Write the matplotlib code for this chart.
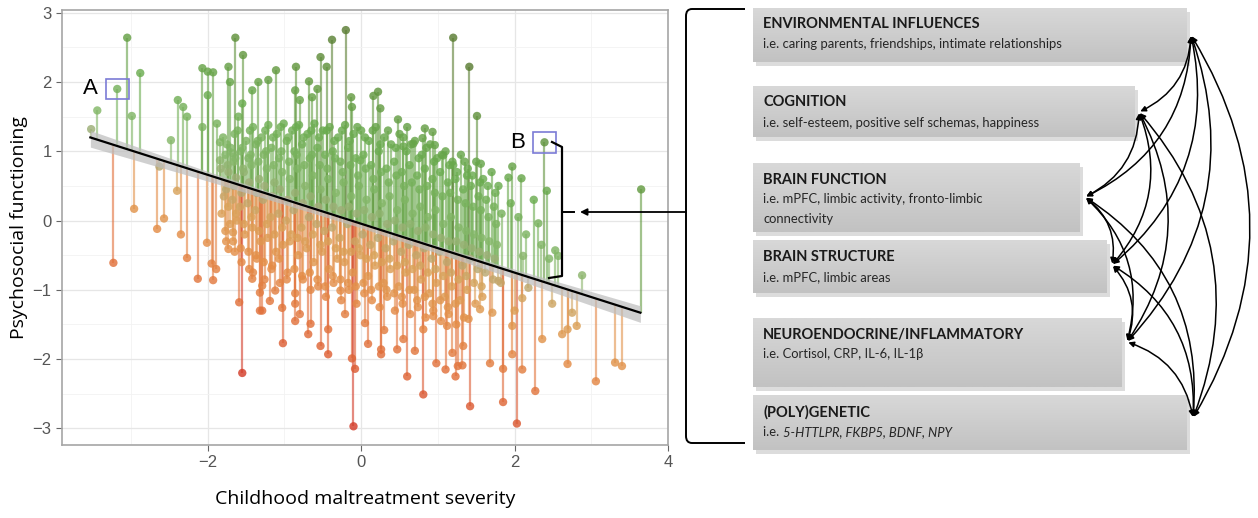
import numpy as np
import matplotlib.pyplot as plt
from matplotlib.colors import LinearSegmentedColormap, Normalize
from matplotlib.patches import Rectangle, FancyArrowPatch, PathPatch
from matplotlib.path import Path

# sparse points around the edge of the cloud (x = maltreatment, y = functioning)
edge_pts = [
    (-3.52, 1.32), (-3.44, 1.59), (-3.18, 1.90), (-3.05, 2.64), (-2.99, 1.51), (-2.88, 2.13),
    (-2.96, 0.17), (-3.23, -0.61), (-2.48, 1.16), (-2.63, 0.78), (-2.40, 0.43), (-2.57, 0.03),
    (-2.66, -0.12), (-2.35, -0.20), (-2.27, -0.54), (-2.13, -0.84), (-1.93, -0.86), (-1.95, -0.62),
    (-1.89, -0.70), (-2.01, -0.32), (-1.73, -0.41), (-1.59, -1.18), (-1.55, -2.20), (-1.32, -1.30),
    (-2.39, 1.74), (-2.32, 1.64), (-2.27, 1.50), (-2.07, 2.20), (-2.00, 2.15), (-1.93, 2.14),
    (-2.00, 1.81), (-2.07, 1.35), (-1.88, 1.40), (-1.84, 1.13), (-1.73, 2.22), (-1.64, 2.64),
    (-1.54, 2.39), (-1.71, 2.00), (-1.55, 1.69), (-1.42, 1.88), (-1.34, 2.00), (-1.60, 1.50),
    (-1.84, 0.87), (-1.67, 0.97),
    (-1.11, 2.17), (-1.21, 2.03), (-0.85, 2.22), (-0.68, 2.01), (-0.53, 2.36), (-0.45, 2.22),
    (-0.38, 2.61), (-0.20, 2.75), (-0.86, 1.88), (-0.80, 1.74), (-0.64, 1.78), (-0.57, 1.90),
    (-0.13, 1.78), (-0.12, 1.64), (0.16, 1.80), (0.22, 1.86), (0.25, 1.62), (0.48, 1.46),
    (0.60, 1.35), (0.83, 1.33), (0.93, 1.28), (1.20, 2.64), (1.20, 0.80), (1.07, 0.94),
    (0.96, 1.09), (0.68, 1.11), (0.55, 1.07), (0.80, 1.19), (-0.01, 0.87),
    (1.41, 2.22), (1.51, 1.51), (1.56, 0.82), (1.38, 0.65), (1.97, 0.78), (1.92, 0.62),
    (2.09, 0.61), (2.39, 1.13), (2.42, 0.43), (2.31, -0.04), (3.65, 0.45),
    (2.53, -0.43), (2.57, -0.51), (2.88, -0.79), (2.49, -1.20), (2.75, -1.33), (2.81, -1.52),
    (2.62, -1.64), (2.69, -1.57), (2.36, -1.71), (2.69, -2.07), (3.06, -2.32), (3.31, -2.05),
    (3.40, -2.10), (2.27, -2.46), (2.03, -2.93), (1.85, -2.62), (1.85, -2.14), (1.68, -2.06),
    (2.10, -2.15), (1.97, -1.93), (1.97, -1.52), (1.42, -2.68), (1.33, -1.81), (1.32, -2.09),
    (1.71, -1.33), (1.55, -1.28), (2.10, -1.12), (2.00, -1.30), (1.79, -0.87), (2.18, -0.97),
    (2.11, -0.51), (1.40, -1.42),
    (-0.10, -2.97), (-0.08, -2.14), (-0.12, -1.99), (-1.02, -1.77), (-0.53, -1.81), (-0.43, -1.93),
    (-0.43, -1.57), (-0.69, -1.64), (-0.66, -1.49), (-0.86, -1.45), (-0.80, -1.35), (-1.03, -1.26),
    (-1.29, -1.30), (-1.19, -1.16), (-0.86, -1.20), (0.09, -1.78), (0.26, -1.86), (0.26, -1.93),
    (0.47, -1.86), (0.60, -2.25), (0.81, -2.51), (0.98, -2.06), (1.10, -2.15), (1.23, -2.25),
    (1.19, -1.91), (1.26, -2.10), (0.70, -1.88), (0.55, -1.71), (0.30, -1.58), (0.05, -1.48),
    (-0.21, -1.35), (-0.27, -1.01), (0.81, -1.57), (0.94, -1.38), (1.12, -1.52), (-1.12, -1.01),
    (-1.29, -0.94), (-1.41, -0.75), (-1.32, -1.04), (-1.67, -0.17), (-1.42, -0.84),
    (1.95, 0.25), (2.05, 0.05), (2.15, -0.20), (2.25, 0.30), (2.35, -0.35), (2.45, -0.55),
]

# the dense middle of the cloud, read column by column
dense_pts = [
    (-1.80, 1.20), (-1.77, 0.95), (-1.83, 0.75), (-1.79, 0.35), (-1.82, 0.10), (-1.76, -0.30),
    (-1.70, 1.05), (-1.66, 0.85), (-1.73, 0.70), (-1.68, 0.30), (-1.71, -0.05), (-1.65, -0.45),
    (-1.61, 1.30), (-1.57, 1.00), (-1.63, 0.62), (-1.58, 0.20), (-1.62, 0.00), (-1.56, -0.60),
    (-1.50, 1.15), (-1.47, 0.90), (-1.53, 0.70), (-1.48, 0.25), (-1.52, -0.20), (-1.46, -0.70),
    (-1.41, 1.35), (-1.37, 1.10), (-1.43, 0.80), (-1.38, 0.15), (-1.42, -0.10), (-1.36, -0.55),
    (-1.30, 1.20), (-1.27, 0.95), (-1.33, 0.60), (-1.28, 0.30), (-1.31, -0.30), (-1.26, -0.85),
    (-1.21, 1.38), (-1.17, 1.05), (-1.23, 0.75), (-1.18, 0.05), (-1.22, -0.25), (-1.16, -0.65),
    (-1.10, 1.25), (-1.07, 0.90), (-1.13, 0.55), (-1.08, 0.10), (-1.11, -0.45), (-1.06, -0.90),
    (-1.01, 1.40), (-0.97, 1.15), (-1.03, 0.70), (-0.98, 0.00), (-1.02, -0.35), (-0.96, -0.75),
    (-0.90, 1.30), (-0.87, 1.00), (-0.93, 0.60), (-0.88, 0.15), (-0.91, -0.20), (-0.86, -1.05),
    (-0.81, 1.38), (-0.77, 1.10), (-0.83, 0.75), (-0.78, -0.10), (-0.82, -0.50), (-0.76, -0.85),
    (-0.70, 1.25), (-0.67, 0.90), (-0.73, 0.50), (-0.68, 0.05), (-0.71, -0.40), (-0.66, -1.00),
    (-0.61, 1.40), (-0.57, 1.05), (-0.63, 0.65), (-0.58, -0.05), (-0.62, -0.60), (-0.56, -0.95),
    (-0.50, 1.30), (-0.47, 0.95), (-0.53, 0.45), (-0.48, -0.15), (-0.51, -0.45), (-0.46, -1.10),
    (-0.41, 1.35), (-0.37, 1.00), (-0.43, 0.60), (-0.38, -0.10), (-0.42, -0.70), (-0.36, -0.90),
    (-0.30, 1.20), (-0.27, 0.85), (-0.33, 0.40), (-0.28, -0.25), (-0.31, -0.55), (-0.26, -1.15),
    (-0.21, 1.38), (-0.17, 1.05), (-0.23, 0.55), (-0.18, -0.05), (-0.22, -0.60), (-0.16, -1.00),
    (-0.10, 1.25), (-0.07, 0.90), (-0.13, 0.35), (-0.08, -0.30), (-0.11, -0.75), (-0.06, -1.20),
    (0.00, 1.30), (0.03, 0.95), (-0.03, 0.50), (0.02, -0.20), (-0.01, -0.50), (0.04, -1.05),
    (0.10, 1.15), (0.13, 0.80), (0.07, 0.30), (0.12, -0.35), (0.09, -0.80), (0.14, -1.15),
    (0.19, 1.35), (0.23, 1.00), (0.17, 0.45), (0.22, -0.25), (0.18, -0.65), (0.24, -1.25),
    (0.30, 1.20), (0.33, 0.75), (0.27, 0.25), (0.32, -0.40), (0.29, -0.90), (0.34, -1.10),
    (0.39, 1.10), (0.43, 0.85), (0.37, 0.35), (0.42, -0.30), (0.38, -0.70), (0.44, -1.30),
    (0.50, 1.25), (0.53, 0.70), (0.47, 0.15), (0.52, -0.45), (0.49, -0.95), (0.54, -1.20),
    (0.59, 1.00), (0.63, 0.80), (0.57, 0.30), (0.62, -0.35), (0.58, -0.75), (0.64, -1.35),
    (0.70, 1.15), (0.73, 0.65), (0.67, 0.10), (0.72, -0.50), (0.69, -1.00), (0.74, -1.25),
    (0.79, 0.95), (0.83, 0.75), (0.77, 0.20), (0.82, -0.40), (0.78, -0.85), (0.84, -1.40),
    (0.90, 1.10), (0.93, 0.60), (0.87, 0.05), (0.92, -0.55), (0.89, -1.05), (0.94, -1.30),
    (0.99, 0.90), (1.03, 0.70), (0.97, 0.15), (1.02, -0.45), (0.98, -0.90), (1.04, -1.45),
    (1.10, 1.00), (1.13, 0.55), (1.07, -0.05), (1.12, -0.60), (1.09, -1.10), (1.14, -1.35),
    (1.19, 0.85), (1.23, 0.60), (1.17, 0.05), (1.22, -0.50), (1.18, -0.95), (1.24, -1.50),
    (1.30, 0.95), (1.33, 0.45), (1.27, -0.10), (1.32, -0.65), (1.29, -1.15), (1.34, -1.40),
    (1.39, 0.75), (1.43, 0.50), (1.37, -0.15), (1.42, -0.55), (1.38, -1.00),
    (1.50, 0.85), (1.53, 0.35), (1.47, -0.20), (1.52, -0.70), (1.49, -1.20),
    (1.59, 0.60), (1.63, 0.30), (1.57, -0.25), (1.62, -0.75), (1.58, -1.10),
    (1.70, 0.70), (1.73, 0.20), (1.67, -0.30), (1.72, -0.85),
    (1.79, 0.50), (1.83, 0.10), (1.77, -0.35), (1.82, -0.90),
]

# second pass over the dense middle, between the columns above
dense_pts_b = [
    (-1.75, 1.10), (-1.74, 0.80), (-1.76, 0.45), (-1.73, 0.20), (-1.77, -0.15),
    (-1.65, 1.25), (-1.64, 0.90), (-1.66, 0.50), (-1.63, 0.10), (-1.67, -0.30),
    (-1.55, 1.05), (-1.54, 0.75), (-1.56, 0.40), (-1.53, -0.05), (-1.57, -0.40),
    (-1.45, 1.30), (-1.44, 0.95), (-1.46, 0.55), (-1.43, 0.05), (-1.47, -0.45),
    (-1.35, 1.15), (-1.34, 0.85), (-1.36, 0.40), (-1.33, -0.15), (-1.37, -0.50),
    (-1.25, 1.30), (-1.24, 1.00), (-1.26, 0.50), (-1.23, -0.05), (-1.27, -0.60),
    (-1.15, 1.20), (-1.14, 0.80), (-1.16, 0.35), (-1.13, -0.20), (-1.17, -0.70),
    (-1.05, 1.35), (-1.04, 1.00), (-1.06, 0.45), (-1.03, -0.10), (-1.07, -0.55),
    (-0.95, 1.20), (-0.94, 0.85), (-0.96, 0.30), (-0.93, -0.30), (-0.97, -0.85),
    (-0.85, 1.35), (-0.84, 0.95), (-0.86, 0.40), (-0.83, -0.25), (-0.87, -0.70),
    (-0.75, 1.20), (-0.74, 0.80), (-0.76, 0.25), (-0.73, -0.30), (-0.77, -0.80),
    (-0.65, 1.30), (-0.64, 0.95), (-0.66, 0.35), (-0.63, -0.20), (-0.67, -0.75),
    (-0.55, 1.20), (-0.54, 0.80), (-0.56, 0.20), (-0.53, -0.35), (-0.57, -0.85),
    (-0.45, 1.30), (-0.44, 0.75), (-0.46, 0.30), (-0.43, -0.30), (-0.47, -0.95),
    (-0.35, 1.15), (-0.34, 0.90), (-0.36, 0.20), (-0.33, -0.40), (-0.37, -0.80),
    (-0.25, 1.30), (-0.24, 0.70), (-0.26, 0.15), (-0.23, -0.45), (-0.27, -0.85),
    (-0.15, 1.15), (-0.14, 0.80), (-0.16, 0.20), (-0.13, -0.45), (-0.17, -0.90),
    (-0.05, 1.35), (-0.04, 0.65), (-0.06, 0.10), (-0.03, -0.40), (-0.07, -0.95),
    (0.05, 1.20), (0.06, 0.75), (0.04, 0.15), (0.07, -0.55), (0.03, -0.90),
    (0.15, 1.30), (0.16, 0.60), (0.14, 0.05), (0.17, -0.50), (0.13, -1.00),
    (0.25, 1.10), (0.26, 0.70), (0.24, 0.10), (0.27, -0.60), (0.23, -0.95),
    (0.35, 1.30), (0.36, 0.55), (0.34, -0.05), (0.37, -0.55), (0.33, -1.00),
    (0.45, 1.05), (0.46, 0.65), (0.44, 0.00), (0.47, -0.65), (0.43, -1.05),
    (0.55, 1.20), (0.56, 0.50), (0.54, -0.10), (0.57, -0.60), (0.53, -1.10),
    (0.65, 1.10), (0.66, 0.55), (0.64, -0.05), (0.67, -0.70), (0.63, -1.00),
    (0.75, 0.90), (0.76, 0.45), (0.74, -0.15), (0.77, -0.65), (0.73, -1.15),
    (0.85, 1.05), (0.86, 0.50), (0.84, -0.10), (0.87, -0.75), (0.83, -1.10),
    (0.95, 0.85), (0.96, 0.40), (0.94, -0.20), (0.97, -0.70), (0.93, -1.20),
    (1.05, 0.95), (1.06, 0.35), (1.04, -0.25), (1.07, -0.80), (1.03, -1.15),
    (1.15, 0.80), (1.16, 0.40), (1.14, -0.30), (1.17, -0.75), (1.13, -1.25),
    (1.25, 0.70), (1.26, 0.30), (1.24, -0.30), (1.27, -0.85), (1.23, -1.20),
    (1.35, 0.85), (1.36, 0.25), (1.34, -0.35), (1.37, -0.80),
    (1.45, 0.65), (1.46, 0.20), (1.44, -0.40), (1.47, -0.90),
    (1.55, 0.55), (1.56, 0.15), (1.54, -0.45), (1.57, -0.95),
    (1.65, 0.50), (1.66, 0.05), (1.64, -0.50),
    (1.75, 0.40), (1.76, -0.05), (1.74, -0.55),
]

# regression line and its confidence band
fit_x = [-3.53, 3.64]
fit_y = [1.20, -1.33]
band_x = [-3.53, -2.0, 0.0, 2.0, 3.64]
band_hw = [0.12, 0.07, 0.04, 0.07, 0.12]

x_ticks = [-2, 0, 2, 4]
y_ticks = [-3, -2, -1, 0, 1, 2, 3]

marked = {"A": (-3.18, 1.90), "B": (2.39, 1.13)}

box_titles = ["ENVIRONMENTAL INFLUENCES", "COGNITION", "BRAIN FUNCTION",
              "BRAIN STRUCTURE", "NEUROENDOCRINE/INFLAMMATORY", "(POLY)GENETIC"]
box_subs = [["i.e. caring parents, friendships, intimate relationships"],
            ["i.e. self-esteem, positive self schemas, happiness"],
            ["i.e. mPFC, limbic activity, fronto-limbic", "connectivity"],
            ["i.e. mPFC, limbic areas"],
            ["i.e. Cortisol, CRP, IL-6, IL-1\u03b2"],
            ["i.e. "]]
genetic_genes = "5-HTTLPR, FKBP5, BDNF, NPY"

# layout of the diagram in pixels (x0, y0, x1, y1), title y, subtitle y, arrow anchor
box_rects = [(753, 8, 1187, 62), (753, 86, 1135, 137), (753, 163, 1080, 232),
             (753, 240, 1107, 293), (753, 318, 1122, 387), (753, 395, 1187, 450)]
title_y = [24, 102, 180, 257, 335, 412]
sub_y = [44, 123, 199, 277, 354, 432]
anchors = [(1191, 35), (1139, 112), (1085, 197), (1112, 265), (1127, 342), (1193, 418)]

W, H = 1258, 518
fig = plt.figure(figsize=(W / 100, H / 100), dpi=100)
ax = fig.add_axes([62 / W, 1 - 445 / H, (668 - 62) / W, (445 - 10) / H])

pts = np.array(edge_pts + dense_pts + dense_pts_b)
px, py = pts[:, 0], pts[:, 1]
fitted = np.interp(px, fit_x, fit_y)
resid = py - fitted

cmap = LinearSegmentedColormap.from_list("resid", [
    (0.00, "#d33d2a"), (0.15, "#e06a38"), (0.32, "#e48f48"), (0.43, "#d9a35a"),
    (0.50, "#a9aa7c"), (0.56, "#86b86a"), (0.72, "#6aac4f"), (0.86, "#62973f"), (1.00, "#5a7d33")])
norm = Normalize(-2.7, 2.7)
cols = cmap(norm(resid))

order = np.argsort(np.abs(resid))
ax.vlines(px[order], fitted[order], py[order], colors=cols[order], alpha=0.6, lw=1.6, zorder=2)
ax.scatter(px[order], py[order], s=36, c=cols[order], alpha=0.82, edgecolors="none", zorder=3)

bx = np.linspace(fit_x[0], fit_x[1], 50)
by = np.interp(bx, fit_x, fit_y)
bh = np.interp(bx, band_x, band_hw)
ax.fill_between(bx, by - bh - 0.02, by + bh - 0.02, color="#bdbdbd", alpha=0.7, lw=0, zorder=4)
ax.plot(fit_x, fit_y, color="black", lw=1.6, zorder=5)

for name, (mx, my) in marked.items():
    ax.add_patch(Rectangle((mx - 0.15, my - 0.15), 0.3, 0.3, fill=False,
                           edgecolor="#7b7bd6", lw=1.2, zorder=6))
    ax.text(mx - 0.25, my, name, ha="right", va="center", fontsize=16,
            family="Liberation Sans", zorder=6)

ax.set_xlim(-3.9, 4.0)
ax.set_ylim(-3.24, 3.04)
ax.set_xticks(x_ticks)
ax.set_yticks(y_ticks)
ax.set_xticks([-3, -1, 1, 3], minor=True)
ax.set_yticks([-2.5, -1.5, -0.5, 0.5, 1.5, 2.5], minor=True)
ax.grid(True, which="major", color="#e6e6e6", lw=0.9)
ax.grid(True, which="minor", color="#f2f2f2", lw=0.6)
ax.set_axisbelow(True)
for s in ax.spines.values():
    s.set_color("#a6a6a6")
    s.set_linewidth(1.2)
ax.tick_params(which="major", length=4, color="#666666", labelsize=12, labelcolor="#555555")
ax.tick_params(which="minor", length=0)
for lab in ax.get_xticklabels() + ax.get_yticklabels():
    lab.set_family("Liberation Sans")
ax.set_xlabel("Childhood maltreatment severity", fontsize=14, family="Open Sans", labelpad=14)
ax.set_ylabel("Psychosocial functioning", fontsize=14, family="Open Sans", labelpad=3)

# overlay in pixel coordinates for the bracket and the diagram
ov = fig.add_axes([0, 0, 1, 1])
ov.set_xlim(0, W)
ov.set_ylim(H, 0)
ov.axis("off")

verts = [(745, 9), (692, 9), (686, 9), (686, 16), (686, 436), (686, 443), (692, 443), (745, 443)]
codes = [Path.MOVETO, Path.LINETO, Path.CURVE3, Path.CURVE3, Path.LINETO,
         Path.CURVE3, Path.CURVE3, Path.LINETO]
ov.add_patch(PathPatch(Path(verts, codes), fill=False, lw=1.4, edgecolor="black"))
ov.add_patch(FancyArrowPatch((686, 212), (580, 212), arrowstyle="-|>", mutation_scale=10,
                             lw=1.3, color="black", shrinkA=0, shrinkB=0))
ov.plot([552, 562, 562, 549], [142, 147, 276, 278], color="black", lw=1.6)
ov.plot([562, 574], [212, 212], color="black", lw=1.4)

gcm = LinearSegmentedColormap.from_list("g", ["#d8d8d8", "#c2c2c2"])
grad = np.linspace(0, 1, 64).reshape(-1, 1)
for i, (x0, y0, x1, y1) in enumerate(box_rects):
    ov.add_patch(Rectangle((x0 + 3, y0 + 4), x1 - x0, y1 - y0, color="#dcdcdc", lw=0, zorder=1))
    ov.imshow(grad, extent=(x0, x1, y1, y0), cmap=gcm, aspect="auto", zorder=2)
    ov.text(x0 + 10, title_y[i], box_titles[i], fontsize=10.5, weight="bold",
            family="Lato", va="center", color="#1a1a1a", zorder=3)
    for k, line in enumerate(box_subs[i]):
        t = ov.text(x0 + 10, sub_y[i] + 20 * k, line, fontsize=9.4, family=["Lato", "DejaVu Sans"],
                    va="center", color="#262626", zorder=3)
    if box_titles[i] == "(POLY)GENETIC":
        fig.canvas.draw()
        bb = t.get_window_extent()
        ov.text(x0 + 10 + bb.width, sub_y[i], genetic_genes, fontsize=9.4, family="Lato",
                style="italic", va="center", color="#262626", zorder=3)

for i in range(len(anchors)):
    for j in range(i + 1, len(anchors)):
        ov.add_patch(FancyArrowPatch(anchors[i], anchors[j], arrowstyle="<|-|>",
                                     connectionstyle="arc3,rad=-0.3", mutation_scale=8,
                                     lw=1.1, color="black", shrinkA=1, shrinkB=1, zorder=4))

ov.set_xlim(0, W)
ov.set_ylim(H, 0)

fig.savefig("out.png", dpi=100)
